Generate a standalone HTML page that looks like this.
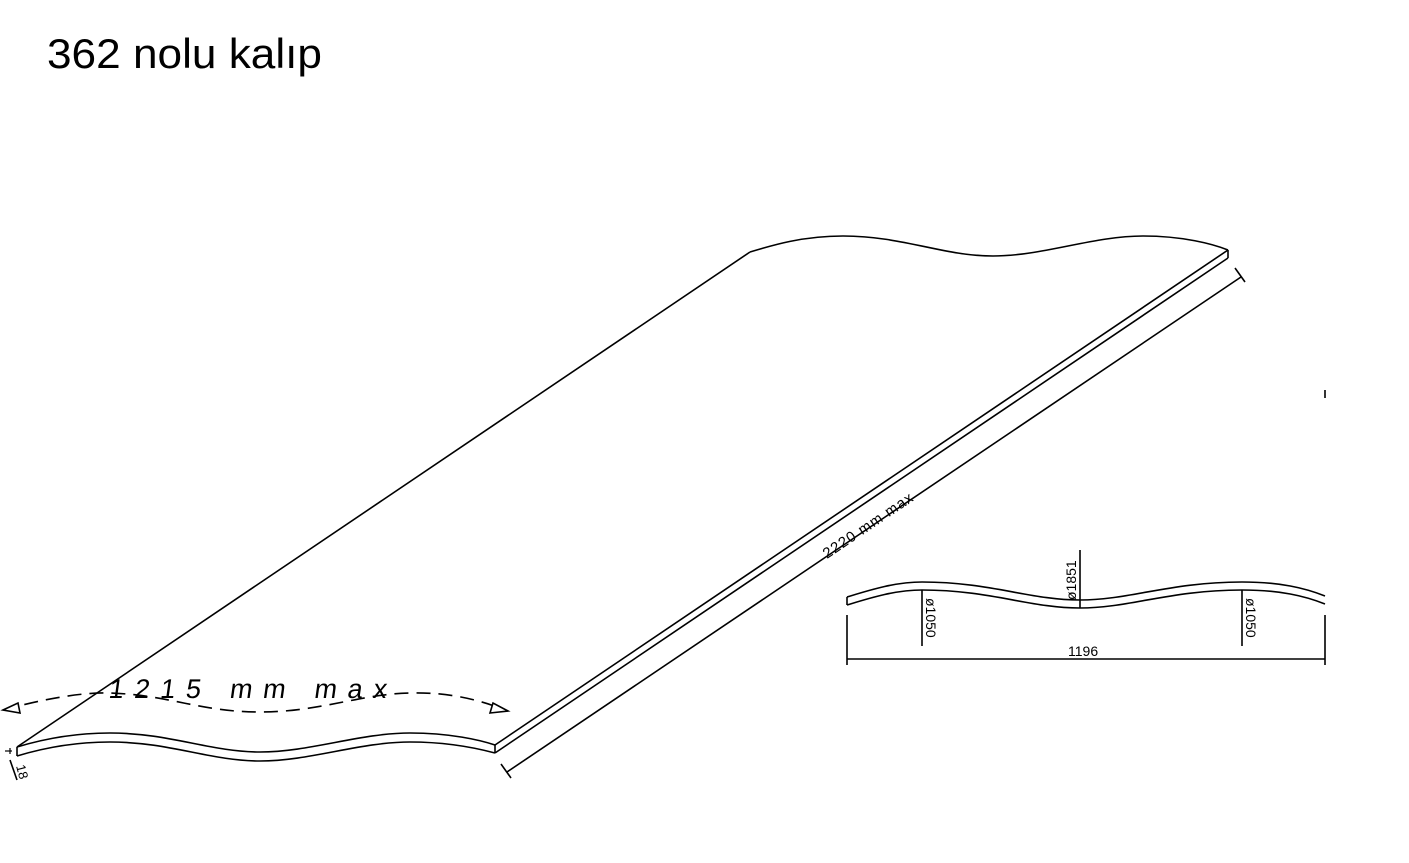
<!DOCTYPE html>
<html><head><meta charset="utf-8"><style>html,body{margin:0;padding:0;background:#fff}svg{display:block}</style></head>
<body>
<svg width="1409" height="863" viewBox="0 0 1409 863" xmlns="http://www.w3.org/2000/svg">
<rect width="1409" height="863" fill="#fff"/>
<text x="47" y="68" font-family="Liberation Sans, sans-serif" font-size="42" textLength="275" lengthAdjust="spacingAndGlyphs" fill="#000">362 nolu kalıp</text>
<g fill="none" stroke="#000" stroke-width="1.6">
<path d="M17,747 C40,740 70,733 110,733 C170,733 210,752 260,752 C310,752 360,733 410,733 C450,733 480,740 495,745"/>
<path d="M17,756 C40,749 70,742 110,742 C170,742 210,761 260,761 C310,761 360,742 410,742 C450,742 480,749 495,753"/>
<line x1="17" y1="747" x2="17" y2="756"/>
<line x1="495" y1="745" x2="495" y2="753"/>
<path d="M750,252 C773,245 803,236 843,236 C903,236 943,256 993,256 C1043,256 1093,236 1143,236 C1183,236 1213,244 1228,250"/>
<line x1="1228" y1="250" x2="1228" y2="258"/>
<line x1="17" y1="747" x2="750" y2="252"/>
<line x1="495" y1="745" x2="1228" y2="250"/>
<line x1="495" y1="753" x2="1228" y2="258"/>
<line x1="507" y1="772" x2="1241" y2="277"/>
<line x1="501" y1="764" x2="511" y2="778"/>
<line x1="1235" y1="268" x2="1245" y2="282"/>
<line x1="10" y1="748" x2="10" y2="754" stroke-width="1.2"/>
<line x1="5" y1="751" x2="12" y2="751" stroke-width="1.2"/>
<line x1="10" y1="760" x2="17" y2="780"/>
<path d="M3,710 C40,700 80,692 110,693 C170,695 200,712 260,712 C320,712 360,694 410,693 C450,692 480,700 508,711" stroke-dasharray="14,8"/>
<path d="M3,710 L18,703 L20,713 Z" fill="#fff"/>
<path d="M508,711 L493,703 L490,713 Z" fill="#fff"/>
<path d="M847,597 C870,590 895,582 922,582 C990,582 1030,600 1080,600 C1130,600 1170,582 1242,582 C1280,582 1305,588 1325,596"/>
<path d="M847,605 C870,598 895,590 922,590 C990,590 1030,608 1080,608 C1130,608 1170,590 1242,590 C1280,590 1305,596 1325,604"/>
<line x1="847" y1="597" x2="847" y2="605"/>
<line x1="847" y1="615" x2="847" y2="665"/>
<line x1="1325" y1="615" x2="1325" y2="665"/>
<line x1="847" y1="659" x2="1325" y2="659"/>
<line x1="922" y1="590" x2="922" y2="646"/>
<line x1="1080" y1="550" x2="1080" y2="608"/>
<line x1="1242" y1="590" x2="1242" y2="646"/>
<line x1="1325" y1="390" x2="1325" y2="398"/>
</g>
<g font-family="Liberation Sans, sans-serif" fill="#000">
<text x="827" y="559" font-size="15" transform="rotate(-34 827 559)" letter-spacing="1">2220 mm max</text>
<text x="108" y="698" font-size="27" letter-spacing="12" textLength="290" lengthAdjust="spacing" transform="skewX(-8) translate(98,0)">1215 mm max</text>
<text x="1068" y="656" font-size="14">1196</text>
<text font-size="14" transform="translate(926,598) rotate(90)">ø1050</text>
<text font-size="14" transform="translate(1246,598) rotate(90)">ø1050</text>
<text font-size="14" transform="translate(1076,600) rotate(-90)">ø1851</text>
<text font-size="13" transform="translate(16,766) rotate(75)">18</text>
</g>
</svg>
</body></html>
